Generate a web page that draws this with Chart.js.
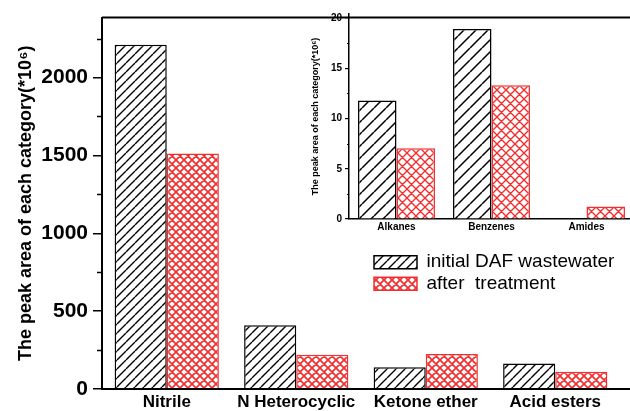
<!DOCTYPE html>
<html>
<head>
<meta charset="utf-8">
<script src="https://cdn.jsdelivr.net/npm/chart.js@4.4.0/dist/chart.umd.min.js"></script>
<style>
  html, body { margin: 0; padding: 0; background: #fff; overflow: hidden; }
  #wrap { position: relative; width: 630px; height: 411px; overflow: hidden; }
  #mainChart { position: absolute; left: 0; top: 0; }
  #insetChart { position: absolute; left: 290px; top: 0; }
</style>
</head>
<body>
<div id="wrap">
  <canvas id="mainChart" width="630" height="411"></canvas>
  <canvas id="insetChart" width="344" height="240"></canvas>
</div>
<script>
// ---- data ----
const categories = ['Nitrile', 'N Heterocyclic', 'Ketone ether', 'Acid esters'];
const initialDAF = [2210, 410, 140, 163];
const afterTreatment = [1512, 220, 225, 110];
const mainTicks = [0, 500, 1000, 1500, 2000];

const insetCategories = ['Alkanes', 'Benzenes', 'Amides'];
const insetInitial = [11.8, 18.9, 0];
const insetAfter = [7.05, 13.3, 1.25];
const insetTicks = [0, 5, 10, 15, 20];

const seriesNames = ['initial DAF wastewater', 'after  treatment'];
const yTitle = 'The peak area of each category(*10⁶)';

const FONT = "'Liberation Sans', Arial, sans-serif";
const RED = '#f03030';
Chart.defaults.font.family = FONT;
Chart.defaults.color = '#000';

// hatch fills for the bars
function hatch(ctx, size, color, width, cross) {
  const c = document.createElement('canvas');
  c.width = size; c.height = size;
  const g = c.getContext('2d');
  g.fillStyle = '#fff';
  g.fillRect(0, 0, size, size);
  g.strokeStyle = color;
  g.lineWidth = width;
  g.beginPath();
  for (const o of [-size, 0, size]) {
    g.moveTo(o, size); g.lineTo(o + size, 0);
    if (cross) { g.moveTo(o, 0); g.lineTo(o + size, size); }
  }
  g.stroke();
  return ctx.createPattern(c, 'repeat');
}

// short unlabeled ticks halfway between the labeled ones
const minorTicks = {
  id: 'minorTicks',
  afterDraw(chart, args, opts) {
    const y = chart.scales.y, ctx = chart.ctx;
    const step = opts.ticks[1] - opts.ticks[0];
    ctx.save();
    ctx.strokeStyle = '#000';
    ctx.lineWidth = opts.width;
    ctx.beginPath();
    opts.ticks.forEach(t => {
      const v = t + step / 2;
      if (v > y.max) return;
      const py = Math.round(y.getPixelForValue(v)) + 0.5;
      ctx.moveTo(y.right - opts.len, py);
      ctx.lineTo(y.right, py);
    });
    ctx.stroke();
    ctx.restore();
  }
};

// top frame + bottom axis run out past the right edge
const frameLines = {
  id: 'frameLines',
  afterDraw(chart) {
    const { ctx, chartArea: a, width } = chart;
    ctx.save();
    ctx.strokeStyle = '#000';
    ctx.lineWidth = 2;
    ctx.beginPath();
    ctx.moveTo(a.left, a.top); ctx.lineTo(width, a.top);
    ctx.moveTo(a.left, a.bottom); ctx.lineTo(width, a.bottom);
    ctx.stroke();
    ctx.restore();
  }
};

// put the legend where the figure has it
const legendPlace = {
  id: 'legendPlace',
  afterLayout(chart, args, opts) {
    const lg = chart.legend;
    lg.left = opts.x; lg.top = opts.y;
    lg.right = lg.left + lg.width;
    lg.bottom = lg.top + lg.height;
  }
};

const plainNum = v => String(v);

// ================================
// Main chart
// ================================
const mainCanvas = document.getElementById('mainChart');
const mctx = mainCanvas.getContext('2d');

new Chart(mainCanvas, {
  type: 'bar',
  data: {
    labels: categories,
    datasets: [
      { label: seriesNames[0], data: initialDAF, backgroundColor: hatch(mctx, 9, '#000', 1.4, false), borderColor: '#000', borderWidth: 1.5 },
      { label: seriesNames[1], data: afterTreatment, backgroundColor: hatch(mctx, 8, RED, 1.7, true), borderColor: RED, borderWidth: 1.5 }
    ]
  },
  options: {
    responsive: false,
    animation: false,
    categoryPercentage: 0.805,
    barPercentage: 1,
    layout: { padding: { top: 13, right: 10, left: 0, bottom: 0 } },
    scales: {
      x: {
        grid: { display: false, drawTicks: false },
        border: { display: true, color: '#000', width: 2 },
        ticks: { font: { size: 17, weight: 'bold' }, padding: 3 },
        afterFit(s) { s.height = 22; }
      },
      y: {
        min: 0,
        max: 2385,
        afterBuildTicks(s) { s.ticks = mainTicks.map(v => ({ value: v })); },
        grid: { drawOnChartArea: false, tickLength: 9, color: '#000', lineWidth: 1.5 },
        border: { display: true, color: '#000', width: 2 },
        ticks: { font: { size: 21, weight: 'bold' }, padding: 5, callback: plainNum },
        title: { display: true, text: yTitle, font: { size: 18, weight: 'bold' }, padding: { top: 15, bottom: 0 } },
        afterFit(s) { s.width = 102; }
      }
    },
    plugins: {
      legend: {
        position: 'chartArea',
        align: 'start',
        labels: { boxWidth: 43, boxHeight: 13, padding: 2.5, font: { size: 19 } }
      },
      tooltip: { enabled: false },
      legendPlace: { x: 371.5, y: 250.2 },
      minorTicks: { ticks: mainTicks, len: 5, width: 1.5 }
    }
  },
  plugins: [minorTicks, frameLines, legendPlace]
});

// ================================
// Inset chart
// ================================
const insetCanvas = document.getElementById('insetChart');
const ictx = insetCanvas.getContext('2d');

new Chart(insetCanvas, {
  type: 'bar',
  data: {
    labels: insetCategories,
    datasets: [
      { label: seriesNames[0], data: insetInitial, backgroundColor: hatch(ictx, 12, '#000', 1.5, false), borderColor: '#000', borderWidth: 1.5 },
      { label: seriesNames[1], data: insetAfter, backgroundColor: hatch(ictx, 9, RED, 1.4, true), borderColor: RED, borderWidth: 1.5 }
    ]
  },
  options: {
    responsive: false,
    animation: false,
    categoryPercentage: 0.81,
    barPercentage: 1,
    layout: { padding: { top: 14, right: 0, left: 0, bottom: 0 } },
    scales: {
      x: {
        grid: { display: false, drawTicks: false },
        border: { display: true, color: '#000', width: 1.5 },
        ticks: { font: { size: 10, weight: 'bold' }, padding: 2 },
        afterFit(s) { s.height = 21; }
      },
      y: {
        min: 0,
        max: 20.4,
        afterBuildTicks(s) { s.ticks = insetTicks.map(v => ({ value: v })); },
        grid: { drawOnChartArea: false, tickLength: 4, color: '#000', lineWidth: 1.2 },
        border: { display: true, color: '#000', width: 1.5 },
        ticks: { font: { size: 10, weight: 'bold' }, padding: 3, callback: plainNum },
        title: { display: true, text: yTitle, font: { size: 9, weight: 'bold' }, padding: { top: 20, bottom: 0 } },
        afterFit(s) { s.width = 59; }
      }
    },
    plugins: {
      legend: { display: false },
      tooltip: { enabled: false },
      minorTicks: { ticks: insetTicks, len: 2, width: 1.2 }
    }
  },
  plugins: [minorTicks]
});
</script>
</body>
</html>
